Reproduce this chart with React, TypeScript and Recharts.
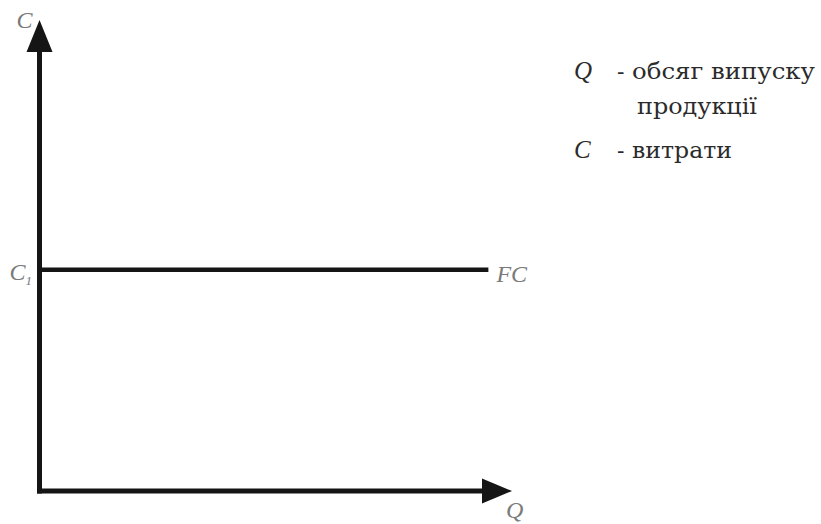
import { LineChart, Line, XAxis, YAxis, ReferenceLine, ReferenceDot } from 'recharts';

// output quantity (Q) and fixed cost level (FC) along it
const quantity = [0, 95];
const fixedCost = [47, 47];

// axis extents in data units
const axisMax = 100;
const axisShaftEnd = 94;

// legend: symbol, explanation lines, baseline of each line and its width
const legendSymbols = ['Q', 'C'];
const legendLines = [['обсяг випуску', 'продукції'], ['витрати']];
const legendBaselines = [[39, 74], [118]];
const legendWidths = [[183, 120], [100]];

const data = quantity.map((q, i) => ({ q, fc: fixedCost[i] }));

const INK = '#151515';
const LABEL = '#7a7a7a';
const SERIF = '"Liberation Serif", "DejaVu Serif", serif';
const CYR_SERIF = '"DejaVu Serif", serif';

const UpArrow = ({ cx, cy }: any) => (
  <polygon points={`${cx},${cy} ${cx - 13},${cy + 32} ${cx + 13},${cy + 32}`} fill={INK} />
);

const RightArrow = ({ cx, cy }: any) => (
  <polygon points={`${cx},${cy} ${cx - 30},${cy - 12.5} ${cx - 30},${cy + 12.5}`} fill={INK} />
);

const tag = (text: string, dx: number, dy: number, sub?: string) =>
  ({ cx, cy }: any) => (
    <text
      x={cx + dx}
      y={cy + dy}
      fill={LABEL}
      style={{ fontFamily: SERIF, fontStyle: 'italic', fontSize: 24 }}
    >
      {text}
      {sub && (
        <tspan style={{ fontSize: 13 }} dy={5}>
          {sub}
        </tspan>
      )}
    </text>
  );

export default function App() {
  return (
    <div style={{ position: 'absolute', left: 0, top: 0, width: 821, height: 524, background: '#fff' }}>
      <LineChart
        width={821}
        height={524}
        data={data}
        margin={{ top: 20, right: 309, bottom: 33, left: 39.5 }}
      >
        <XAxis dataKey="q" type="number" domain={[0, axisMax]} hide />
        <YAxis type="number" domain={[0, axisMax]} hide />
        <ReferenceLine
          segment={[{ x: 0, y: 0 }, { x: 0, y: axisShaftEnd }]}
          stroke={INK}
          strokeWidth={5}
          strokeLinecap="square"
        />
        <ReferenceLine
          segment={[{ x: 0, y: 0 }, { x: axisShaftEnd, y: 0 }]}
          stroke={INK}
          strokeWidth={5}
          strokeLinecap="square"
        />
        <Line
          dataKey="fc"
          stroke={INK}
          strokeWidth={4.5}
          dot={false}
          isAnimationActive={false}
        />
        <ReferenceDot x={0} y={axisMax} r={0} shape={UpArrow} />
        <ReferenceDot x={axisMax} y={0} r={0} shape={RightArrow} />
        <ReferenceDot x={0} y={axisMax} r={0} shape={tag('C', -23, 8)} />
        <ReferenceDot x={0} y={fixedCost[0]} r={0} shape={tag('C', -30, 10, '1')} />
        <ReferenceDot x={quantity[1]} y={fixedCost[1]} r={0} shape={tag('FC', 8, 12)} />
        <ReferenceDot x={axisMax} y={0} r={0} shape={tag('Q', -6, 27)} />
      </LineChart>
      <svg width={250} height={160} style={{ position: 'absolute', left: 571, top: 40 }}>
        {legendSymbols.map((symbol, i) => (
          <g key={symbol} fill="#2b2b2b">
            <text x={3} y={legendBaselines[i][0]} style={{ fontFamily: SERIF, fontStyle: 'italic', fontSize: 25 }}>
              {symbol}
            </text>
            <text x={46} y={legendBaselines[i][0]} style={{ fontFamily: CYR_SERIF, fontSize: 22 }}>
              -
            </text>
            {legendLines[i].map((line, j) => (
              <text
                key={line}
                x={j === 0 ? 61 : 66}
                y={legendBaselines[i][j]}
                textLength={legendWidths[i][j]}
                lengthAdjust="spacingAndGlyphs"
                style={{ fontFamily: CYR_SERIF, fontSize: 22 }}
              >
                {line}
              </text>
            ))}
          </g>
        ))}
      </svg>
    </div>
  );
}
